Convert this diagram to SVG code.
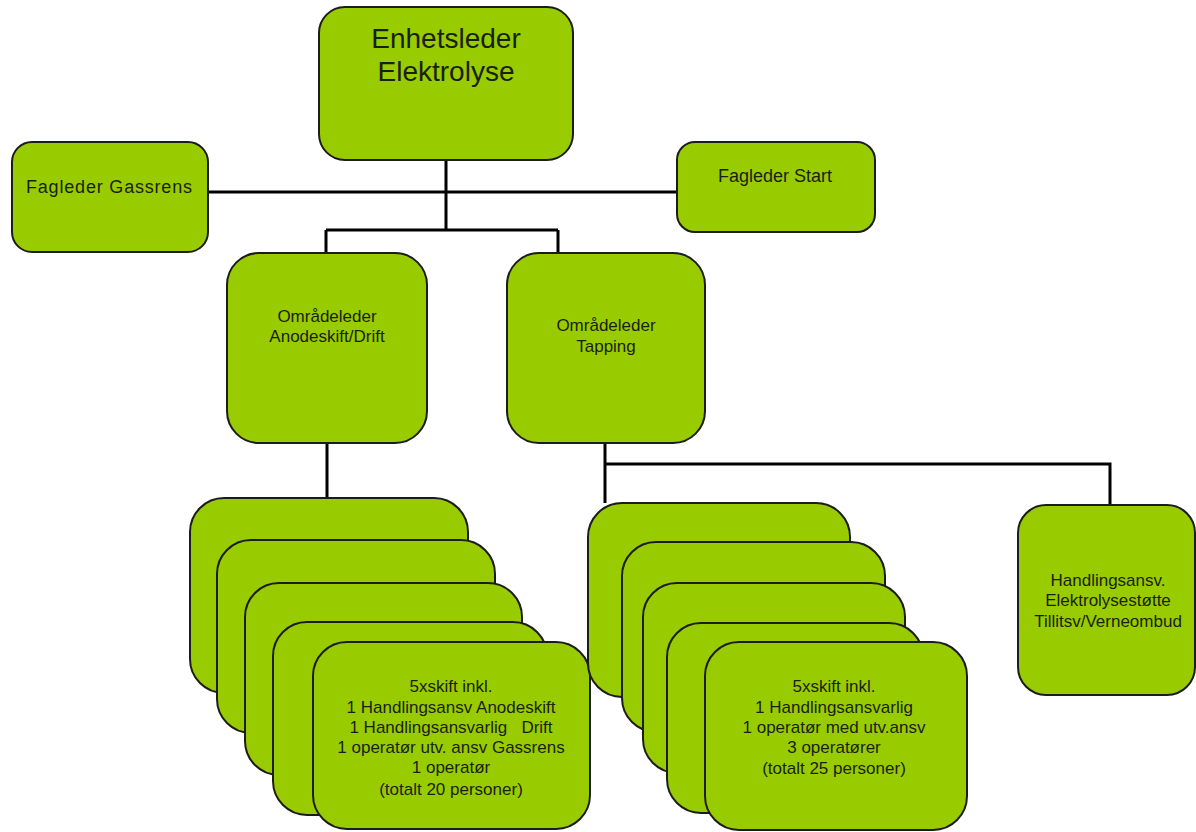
<svg xmlns="http://www.w3.org/2000/svg" width="1196" height="832" viewBox="0 0 1196 832">
<style>
.box{fill:#99CC00;stroke:#1c1c1c;stroke-width:2}
.t{font-family:"Liberation Sans",Arial,sans-serif;font-size:17px;fill:#1a1f0a;text-anchor:middle}
.big{font-size:28px}
.f{font-size:18px}
.con{fill:none;stroke:#000;stroke-width:3}
</style>
<rect width="1196" height="832" fill="#fff"/>
<g id="connectors">
<path class="con" d="M446 160 V230 M208 192 H678 M326 230 H558 M326 230 V253 M558 230 V253"/>
<path class="con" d="M327 443 V498 M605 443 V503 M605 464 H1110 V505"/>
</g>
<g id="enhetsleder">
<rect class="box" x="319" y="7" width="254" height="153" rx="26"/>
<text class="t big" x="446" y="48">Enhetsleder</text>
<text class="t big" x="446" y="81">Elektrolyse</text>
</g>
<g id="fagleder-gassrens">
<rect class="box" x="12" y="142" width="196" height="110" rx="20"/>
<text class="t f" x="109" y="193" textLength="166" lengthAdjust="spacing">Fagleder Gassrens</text>
</g>
<g id="fagleder-start">
<rect class="box" x="677" y="142" width="198" height="90" rx="18"/>
<text class="t f" x="775" y="182">Fagleder Start</text>
</g>
<g id="omradeleder-anodeskift">
<rect class="box" x="227" y="253" width="200" height="190" rx="32"/>
<text class="t" x="327" y="322">Områdeleder</text>
<text class="t" x="327" y="342">Anodeskift/Drift</text>
</g>
<g id="omradeleder-tapping">
<rect class="box" x="507" y="253" width="198" height="190" rx="32"/>
<text class="t" x="606" y="331">Områdeleder</text>
<text class="t" x="606" y="352">Tapping</text>
</g>
<g id="skift-anodeskift">
<rect class="box" x="190" y="498" width="278" height="195" rx="34"/>
<rect class="box" x="217" y="540" width="278" height="193" rx="34"/>
<rect class="box" x="245" y="583" width="277" height="192" rx="34"/>
<rect class="box" x="273" y="622" width="274" height="193" rx="34"/>
<rect class="box" x="313" y="642" width="277" height="187" rx="34"/>
<text class="t" x="451" y="692">5xskift inkl.</text>
<text class="t" x="451" y="713">1 Handlingsansv Anodeskift</text>
<text class="t" x="451" y="733" style="white-space:pre">1 Handlingsansvarlig   Drift</text>
<text class="t" x="451" y="753">1 operatør utv. ansv Gassrens</text>
<text class="t" x="451" y="773">1 operatør</text>
<text class="t" x="451" y="795">(totalt 20 personer)</text>
</g>
<g id="skift-tapping">
<rect class="box" x="588" y="503" width="262" height="194" rx="34"/>
<rect class="box" x="622" y="542" width="263" height="190" rx="34"/>
<rect class="box" x="643" y="583" width="262" height="190" rx="34"/>
<rect class="box" x="667" y="623" width="256" height="190" rx="34"/>
<rect class="box" x="705" y="642" width="262" height="188" rx="34"/>
<text class="t" x="834" y="692">5xskift  inkl.</text>
<text class="t" x="834" y="713">1 Handlingsansvarlig</text>
<text class="t" x="834" y="733">1 operatør med utv.ansv</text>
<text class="t" x="834" y="753">3 operatører</text>
<text class="t" x="834" y="774">(totalt 25 personer)</text>
</g>
<g id="handlingsansv">
<rect class="box" x="1018" y="505" width="177" height="190" rx="28"/>
<text class="t" x="1108" y="586">Handlingsansv.</text>
<text class="t" x="1108" y="606">Elektrolysestøtte</text>
<text class="t" x="1108" y="627">Tillitsv/Verneombud</text>
</g>
</svg>
